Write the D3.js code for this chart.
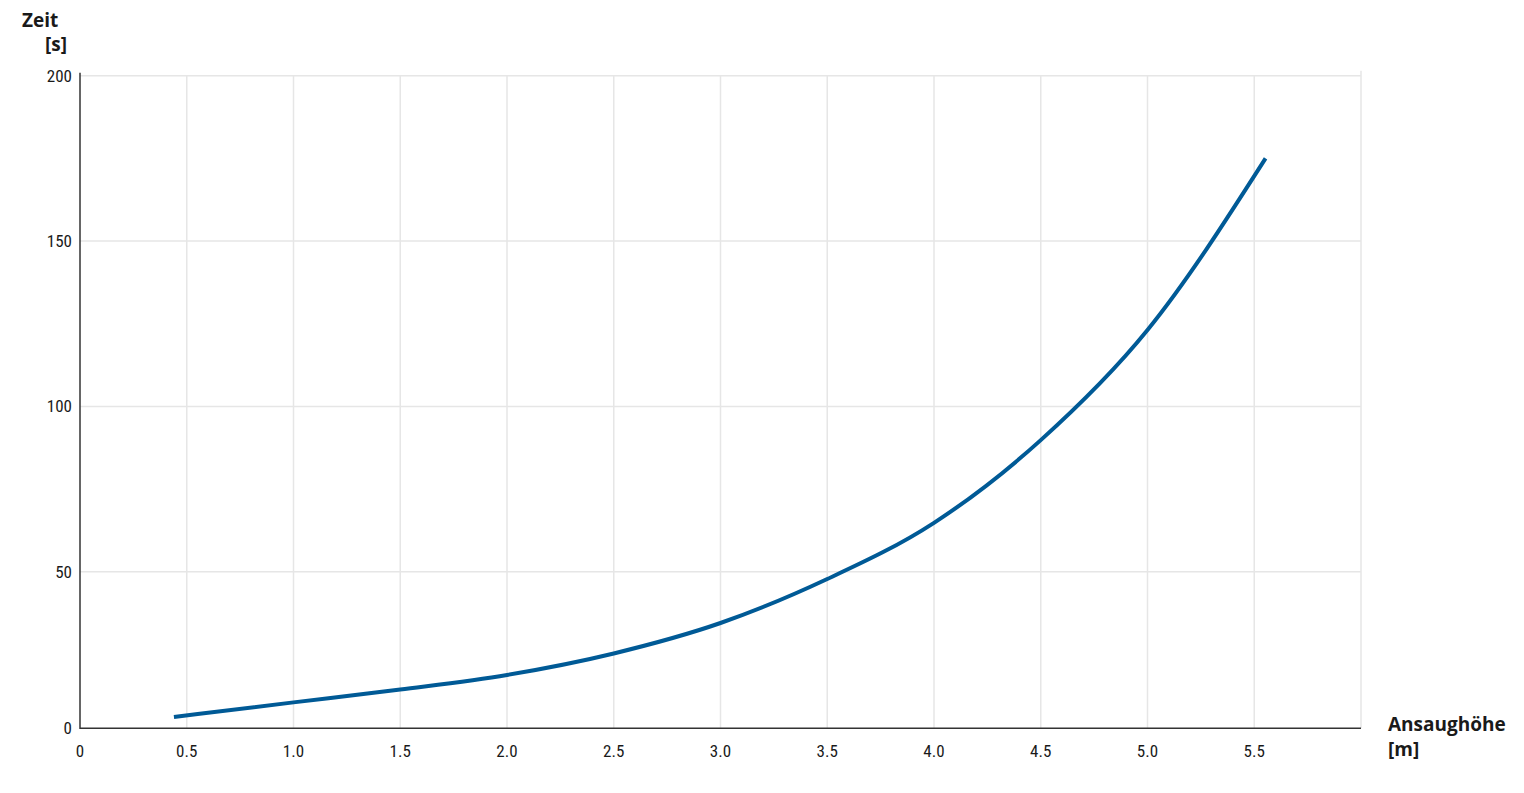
<!DOCTYPE html>
<html>
<head>
<meta charset="utf-8">
<script src="https://cdn.jsdelivr.net/npm/d3@7"></script>
<style>
  html, body { margin: 0; padding: 0; background: #fff; }
  svg { display: block; }
  .tick-label { font-family: "Liberation Sans Narrow", "Roboto Condensed", "Open Sans", sans-serif; font-size: 17px; fill: #1a1a1a; }
  .axis-title { font-family: "Open Sans", "Noto Sans", sans-serif; font-weight: 700; font-size: 19px; fill: #1a1a1a; }
</style>
</head>
<body>
<svg id="chart" width="1524" height="793"></svg>
<script>
// Data
const heights = [0.44, 1.0, 1.5, 2.0, 2.5, 3.0, 3.5, 4.0, 4.5, 5.0, 5.553];
const times   = [6.1, 10.5, 14.4, 18.8, 25.3, 34.5, 47.8, 64.8, 89.8, 123.1, 175.0];
const xTicks = [0, 0.5, 1.0, 1.5, 2.0, 2.5, 3.0, 3.5, 4.0, 4.5, 5.0, 5.5];
const xGrid = [0.5, 1.0, 1.5, 2.0, 2.5, 3.0, 3.5, 4.0, 4.5, 5.0, 5.5, 6.0];
const yTicks = [0, 50, 100, 150, 200];
const yGrid = [50, 100, 150, 200];
const xTitle = ["Ansaughöhe", "[m]"];
const yTitle = ["Zeit", "[s]"];
const yBase = 2.7; // value at which the x axis is drawn (labelled 0)

const svg = d3.select("#chart");
const x = d3.scaleLinear().domain([0, 6]).range([80, 1361]);
const y = d3.scaleLinear().domain([0, 200]).range([737.1, 75.7]);
const baseY = y(yBase);
const yPos = v => v === 0 ? baseY : y(v);

// grid
svg.append("g").selectAll("line").data(xGrid).join("line")
  .attr("x1", d => x(d)).attr("x2", d => x(d))
  .attr("y1", d => d === 6 ? y(200) - 5 : y(200)).attr("y2", baseY)
  .attr("stroke", "#e6e6e6").attr("stroke-width", 1.5);
svg.append("g").selectAll("line").data(yGrid).join("line")
  .attr("x1", x(0)).attr("x2", x(6))
  .attr("y1", d => y(d)).attr("y2", d => y(d))
  .attr("stroke", "#e6e6e6").attr("stroke-width", 1.5);

// axes lines
svg.append("line").attr("x1", x(0)).attr("x2", x(6)).attr("y1", baseY).attr("y2", baseY)
  .attr("stroke", "#333").attr("stroke-width", 1.5);
svg.append("line").attr("x1", x(0)).attr("x2", x(0)).attr("y1", y(200) - 3).attr("y2", baseY + 0.75)
  .attr("stroke", "#333").attr("stroke-width", 1.5);

// tick labels
svg.append("g").selectAll("text").data(xTicks).join("text")
  .attr("class", "tick-label")
  .attr("x", d => x(d)).attr("y", baseY + 29)
  .attr("text-anchor", "middle")
  .text(d => d === 0 ? "0" : d3.format(".1f")(d));
svg.append("g").selectAll("text").data(yTicks).join("text")
  .attr("class", "tick-label")
  .attr("x", x(0) - 8).attr("y", d => yPos(d) + 6)
  .attr("text-anchor", "end")
  .text(d => d);

// titles
svg.append("text").attr("class", "axis-title").attr("x", 22).attr("y", 27).text(yTitle[0]);
svg.append("text").attr("class", "axis-title").attr("x", 45).attr("y", 51).text(yTitle[1]);
svg.append("text").attr("class", "axis-title").attr("x", 1388).attr("y", 731).text(xTitle[0]);
svg.append("text").attr("class", "axis-title").attr("x", 1388).attr("y", 756).text(xTitle[1]);

// curve
const data = heights.map((h, i) => ({ h, t: times[i] }));
svg.append("path").datum(data)
  .attr("fill", "none")
  .attr("stroke", "#005a96")
  .attr("stroke-width", 4)
  .attr("d", d3.line().x(d => x(d.h)).y(d => y(d.t)).curve(d3.curveMonotoneX));
</script>
</body>
</html>
